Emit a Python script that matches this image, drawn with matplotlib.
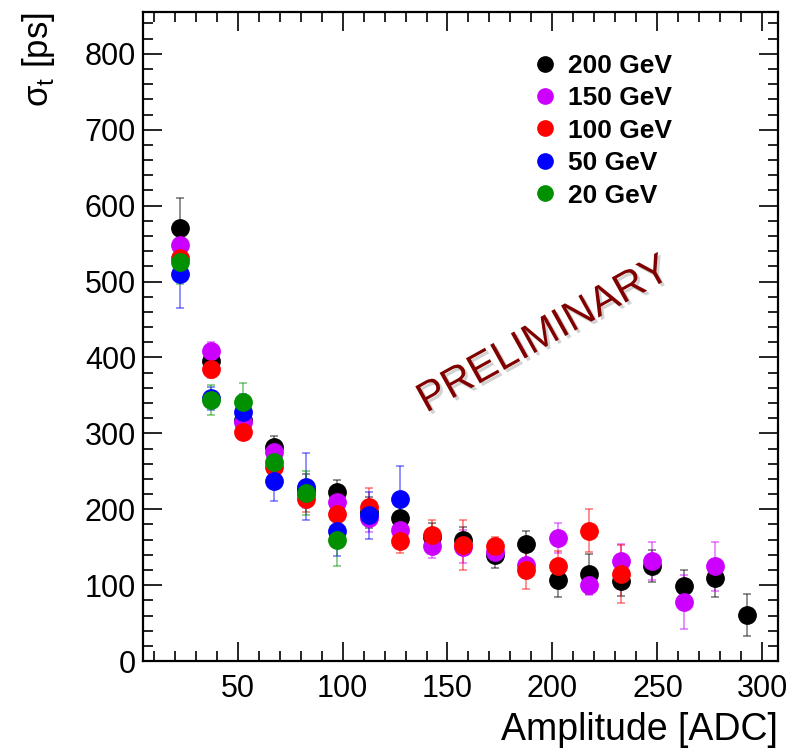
import matplotlib
matplotlib.use("Agg")
import matplotlib.pyplot as plt
import matplotlib.patheffects as pe
from matplotlib.lines import Line2D
from matplotlib.ticker import MultipleLocator

plt.rcParams["font.family"] = ["Liberation Sans", "DejaVu Sans"]
plt.rcParams["mathtext.fontset"] = "custom"
plt.rcParams["mathtext.rm"] = "Liberation Sans"

# bin centres in ADC
amp = [22.5, 37.5, 52.5, 67.5, 82.5, 97.5, 112.5, 127.5, 142.5, 157.5,
       172.5, 187.5, 202.5, 217.5, 232.5, 247.5, 262.5, 277.5, 292.5]

sig_200 = [570, 396, 318, 282, 226, 223, 196, 188, 164, 159, 140, 154, 107, 115, 106, 125, 99, 110, 61]
err_200 = [40, 15, 15, 15, 20, 15, 20, 20, 18, 18, 17, 18, 23, 26, 20, 21, 21, 25, 28]

sig_150 = [548, 408, 315, 275, 220, 209, 188, 173, 152, 151, 144, 127, 162, 100, 132, 132, 78, 125]
err_150 = [22, 12, 15, 15, 18, 15, 18, 18, 16, 22, 15, 18, 20, 13, 22, 25, 36, 32]

sig_100 = [531, 385, 302, 256, 214, 194, 203, 158, 166, 153, 152, 120, 125, 172, 115]
err_100 = [22, 12, 10, 15, 18, 18, 25, 15, 20, 33, 12, 25, 20, 28, 38]

sig_50 = [510, 346, 328, 237, 230, 172, 192, 213]
err_50 = [45, 15, 24, 26, 44, 33, 31, 44]

sig_20 = [526, 344, 341, 262, 222, 160]
err_20 = [29, 20, 26, 20, 29, 35]

series = [
    ("200 GeV", sig_200, err_200, "black"),
    ("150 GeV", sig_150, err_150, "#cc00ff"),
    ("100 GeV", sig_100, err_100, "#ff0000"),
    ("50 GeV", sig_50, err_50, "#0000ff"),
    ("20 GeV", sig_20, err_20, "#009000"),
]

fig = plt.figure(figsize=(7.99, 7.53), dpi=100)
ax = fig.add_axes([0.179, 0.122, 0.795, 0.862])

handles = []
for label, sig, err, col in series:
    x = amp[:len(sig)]
    eb = ax.errorbar(x, sig, yerr=err, fmt="o", color=col, ms=12.5, mec=col,
                     ecolor=col, elinewidth=1.1, capsize=3, capthick=1.1)
    for c in eb[1]:
        c.set_alpha(0.55)
    for c in eb[2]:
        c.set_alpha(0.55)
    handles.append(Line2D([], [], ls="none", marker="o", color=col, ms=11, label=label))

ax.set_xlim(5, 307.5)
ax.set_ylim(0, 855)

ax.xaxis.set_major_locator(MultipleLocator(50))
ax.xaxis.set_minor_locator(MultipleLocator(10))
ax.yaxis.set_major_locator(MultipleLocator(100))
ax.yaxis.set_minor_locator(MultipleLocator(20))
ax.tick_params(which="both", direction="in", top=True, right=True, width=1.2)
ax.tick_params(which="major", length=14)
ax.tick_params(which="minor", length=7)
ax.tick_params(axis="x", labelsize=22, pad=9)
ax.tick_params(axis="y", labelsize=22, pad=5)
ax.set_xticks([50, 100, 150, 200, 250, 300])
for s in ax.spines.values():
    s.set_linewidth(1.6)

ax.set_xlabel("Amplitude [ADC]", fontsize=27, loc="right", labelpad=6)
ax.set_ylabel("\u03c3$_{\\mathrm{t}}$ [ps]", fontsize=25, loc="top", labelpad=20)

ax.legend(handles=handles, loc="upper left", bbox_to_anchor=(0.592, 0.952), frameon=False,
          prop={"weight": "bold", "size": 19}, handletextpad=0.25,
          labelspacing=0.32, borderaxespad=0, handlelength=1.2)

ax.text(0.631, 0.502, "PRELIMINARY", transform=ax.transAxes, rotation=29,
        fontsize=30, color="#800000", ha="center", va="center",
        path_effects=[pe.withSimplePatchShadow(offset=(2, -2), shadow_rgbFace="gray", alpha=0.35)])

fig.savefig("out.png", dpi=100)
